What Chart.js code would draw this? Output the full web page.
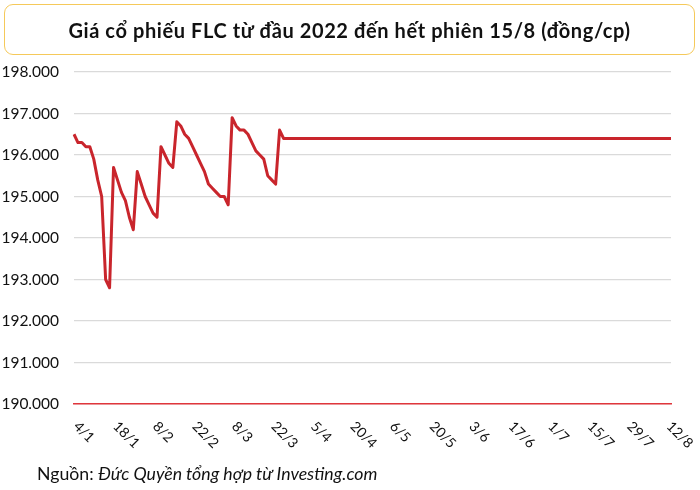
<!DOCTYPE html>
<html>
<head>
<meta charset="utf-8">
<script src="https://cdn.jsdelivr.net/npm/chart.js@4/dist/chart.umd.min.js"></script>
<style>
  body { margin: 0; background: #fff; }
  #wrap { position: relative; width: 700px; height: 490px; font-family: Lato, sans-serif; }
  #title {
    position: absolute; left: 4px; top: 4px; width: 689px; height: 49px;
    border: 1.5px solid #f5c95a; border-radius: 9px;
    font: bold 20px Lato, sans-serif; letter-spacing: 0.6px; color: #111;
    display: flex; align-items: center; justify-content: center;
  }
  #source { position: absolute; left: 37px; top: 465px; font: 17.7px Lato, sans-serif; line-height: 1; color: #111; }
</style>
</head>
<body>
<div id="wrap">
  <canvas id="chartPrice"></canvas>
  <div id="title">Giá cổ phiếu FLC từ đầu 2022 đến hết phiên 15/8 (đồng/cp)</div>
  <div id="source">Nguồn: <i>Đức Quyền tổng hợp từ Investing.com</i></div>
</div>
<script>
// trading days from 4/1 to 15/8/2022
var days = [
    '4/1', '5/1', '6/1', '7/1', '10/1', '11/1', '12/1', '13/1', '14/1', '17/1',
    '18/1', '19/1', '20/1', '21/1', '24/1', '25/1', '26/1', '27/1', '28/1', '7/2',
    '8/2', '9/2', '10/2', '11/2', '14/2', '15/2', '16/2', '17/2', '18/2', '21/2',
    '22/2', '23/2', '24/2', '25/2', '28/2', '1/3', '2/3', '3/3', '4/3', '7/3',
    '8/3', '9/3', '10/3', '11/3', '14/3', '15/3', '16/3', '17/3', '18/3', '21/3',
    '22/3', '23/3', '24/3', '25/3', '28/3', '29/3', '30/3', '31/3', '1/4', '4/4',
    '5/4', '6/4', '7/4', '8/4', '12/4', '13/4', '14/4', '15/4', '18/4', '19/4',
    '20/4', '21/4', '22/4', '25/4', '26/4', '27/4', '28/4', '29/4', '4/5', '5/5',
    '6/5', '9/5', '10/5', '11/5', '12/5', '13/5', '16/5', '17/5', '18/5', '19/5',
    '20/5', '23/5', '24/5', '25/5', '26/5', '27/5', '30/5', '31/5', '1/6', '2/6',
    '3/6', '6/6', '7/6', '8/6', '9/6', '10/6', '13/6', '14/6', '15/6', '16/6',
    '17/6', '20/6', '21/6', '22/6', '23/6', '24/6', '27/6', '28/6', '29/6', '30/6',
    '1/7', '4/7', '5/7', '6/7', '7/7', '8/7', '11/7', '12/7', '13/7', '14/7',
    '15/7', '18/7', '19/7', '20/7', '21/7', '22/7', '25/7', '26/7', '27/7', '28/7',
    '29/7', '1/8', '2/8', '3/8', '4/8', '5/8', '8/8', '9/8', '10/8', '11/8',
    '12/8', '15/8'
];

var prices = [
    196500, 196300, 196300, 196200, 196200, 195900, 195400, 195000, 193000, 192800,
    195700, 195400, 195100, 194900, 194500, 194200, 195600, 195300, 195000, 194800,
    194600, 194500, 196200, 196000, 195800, 195700, 196800, 196700, 196500, 196400,
    196200, 196000, 195800, 195600, 195300, 195200, 195100, 195000, 195000, 194800,
    196900, 196700, 196600, 196600, 196500, 196300, 196100, 196000, 195900, 195500,
    195400, 195300, 196600, 196400, 196400, 196400, 196400, 196400, 196400, 196400,
    196400, 196400, 196400, 196400, 196400, 196400, 196400, 196400, 196400, 196400,
    196400, 196400, 196400, 196400, 196400, 196400, 196400, 196400, 196400, 196400,
    196400, 196400, 196400, 196400, 196400, 196400, 196400, 196400, 196400, 196400,
    196400, 196400, 196400, 196400, 196400, 196400, 196400, 196400, 196400, 196400,
    196400, 196400, 196400, 196400, 196400, 196400, 196400, 196400, 196400, 196400,
    196400, 196400, 196400, 196400, 196400, 196400, 196400, 196400, 196400, 196400,
    196400, 196400, 196400, 196400, 196400, 196400, 196400, 196400, 196400, 196400,
    196400, 196400, 196400, 196400, 196400, 196400, 196400, 196400, 196400, 196400,
    196400, 196400, 196400, 196400, 196400, 196400, 196400, 196400, 196400, 196400,
    196400, 196400
];

var yMin = 190000;
var yMax = 198000;
var yStep = 1000;
var labelEvery = 10;

function formatVnd(v) {
    return String(v).replace(/\B(?=(\d{3})+(?!\d))/g, '.');
}

// slanted date labels, drawn top-left to bottom-right like the original
var slantLabels = {
    id: 'slantLabels',
    afterDraw: function (chart) {
        var ctx = chart.ctx;
        var xs = chart.scales.x;
        ctx.save();
        ctx.font = '14px Lato';
        ctx.fillStyle = '#111';
        ctx.textAlign = 'left';
        ctx.textBaseline = 'middle';
        for (var i = 0; i < days.length; i++) {
            if (i % labelEvery !== 0) continue;
            var x = xs.getPixelForValue(i);
            ctx.save();
            ctx.translate(x + 2, xs.top + 20);
            ctx.rotate(Math.PI / 4);
            ctx.fillText(days[i], 0, 0);
            ctx.restore();
        }
        ctx.restore();
    }
};

var ctx = document.getElementById('chartPrice').getContext('2d');
var myChart = new Chart(ctx, {
    type: 'line',
    data: {
        labels: days,
        datasets: [{
            data: prices,
            borderColor: '#c9252c',
            borderWidth: 3,
            pointRadius: 0,
            tension: 0,
            borderJoinStyle: 'round',
            fill: false
        }]
    },
    options: {
        responsive: true,
        maintainAspectRatio: false,
        animation: false,
        layout: {
            padding: { top: 72, right: 29, bottom: 0, left: 0 }
        },
        plugins: {
            legend: { display: false },
            tooltip: { enabled: false }
        },
        scales: {
            x: {
                type: 'category',
                grid: { display: false },
                border: { color: '#e0363c', width: 1.5 },
                ticks: { display: false },
                afterFit: function (scale) { scale.height = 86; }
            },
            y: {
                min: yMin,
                max: yMax,
                grid: { color: '#dadada', lineWidth: 1.3, drawTicks: false },
                border: { display: false },
                ticks: {
                    stepSize: yStep,
                    padding: 15,
                    color: '#111',
                    font: { family: 'Lato', size: 15.5 },
                    callback: function (v) { return formatVnd(v); }
                },
                afterFit: function (scale) { scale.width = 74; }
            }
        }
    },
    plugins: [slantLabels]
});
</script>
</body>
</html>
